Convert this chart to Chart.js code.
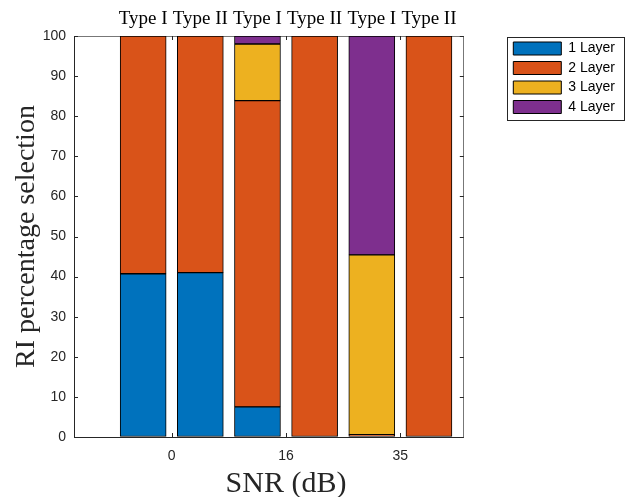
<!DOCTYPE html>
<html>
<head>
<meta charset="utf-8">
<script src="https://cdn.jsdelivr.net/npm/chart.js@4.4.1/dist/chart.umd.min.js"></script>
<style>
  html, body { margin: 0; padding: 0; background: #fff; }
  #wrap { width: 626px; height: 497px; }
</style>
</head>
<body>
<div id="wrap"><canvas id="myChart" width="626" height="497"></canvas></div>
<script>
// bar positions along x, one per bar
const barPos = [1, 2, 3, 4, 5, 6];
const typeLabels = ['Type I', 'Type II', 'Type I', 'Type II', 'Type I', 'Type II'];
const snrPos = [1.5, 3.5, 5.5];
const snrLabels = ['0', '16', '35'];

// percentage of each layer, per bar
const layer1 = [40.7, 41.0, 7.5, 0, 0, 0];
const layer2 = [59.3, 59.0, 76.4, 100, 0.6, 100];
const layer3 = [0, 0, 14.1, 0, 44.8, 0];
const layer4 = [0, 0, 2.0, 0, 54.6, 0];

const seriesNames = ['1 Layer', '2 Layer', '3 Layer', '4 Layer'];
const seriesColors = ['#0072BD', '#D95319', '#EDB120', '#7E2F8E'];

function pts(arr) {
    return arr.map(function(v, i){ return {x: barPos[i], y: v}; });
}

const axisColor = '#262626';

// box round the legend, MATLAB style inward ticks, x label under the middle tick
const frame = {
    id: 'frame',
    afterDraw: function(chart) {
        const ctx = chart.ctx;
        const a = chart.chartArea;
        const sx = chart.scales.x, sy = chart.scales.y;
        ctx.save();
        ctx.strokeStyle = axisColor;
        ctx.lineWidth = 1;
        ctx.beginPath();
        sy.ticks.forEach(function(t){
            const y = Math.round(sy.getPixelForValue(t.value)) + 0.5;
            ctx.moveTo(a.left, y); ctx.lineTo(a.left + 4, y);
            ctx.moveTo(a.right, y); ctx.lineTo(a.right - 4, y);
        });
        sx.ticks.forEach(function(t){
            const x = Math.round(sx.getPixelForValue(t.value)) + 0.5;
            ctx.moveTo(x, a.bottom); ctx.lineTo(x, a.bottom - 4);
            ctx.moveTo(x, a.top); ctx.lineTo(x, a.top + 4);
        });
        ctx.stroke();

        const boxes = chart.legend.legendHitBoxes;
        if (boxes && boxes.length) {
            let l = Infinity, r = -Infinity, t = Infinity, b = -Infinity;
            boxes.forEach(function(h){
                l = Math.min(l, h.left); r = Math.max(r, h.left + h.width);
                t = Math.min(t, h.top); b = Math.max(b, h.top + h.height);
            });
            ctx.strokeStyle = '#262626';
            ctx.strokeRect(Math.round(l - 6) + 0.5, Math.round(t - 5) + 0.5, Math.round(r - l + 15), Math.round(b - t + 10));
        }

        ctx.fillStyle = '#262626';
        ctx.font = '30px "Liberation Serif"';
        ctx.textAlign = 'center';
        ctx.textBaseline = 'alphabetic';
        ctx.fillText('SNR (dB)', sx.getPixelForValue(snrPos[1]), a.bottom + 55);
        ctx.restore();
    }
};

const datasets = seriesNames.map(function(name, k){
    return {
        label: name,
        data: pts([layer1, layer2, layer3, layer4][k]),
        backgroundColor: seriesColors[k],
        borderColor: '#000',
        borderWidth: 1,
        borderSkipped: false,
        barThickness: 46,
        grouped: false,
        xAxisID: 'x',
        yAxisID: 'y'
    };
});

new Chart(document.getElementById('myChart'), {
    type: 'bar',
    data: { datasets: datasets },
    options: {
        responsive: false,
        animation: false,
        layout: { padding: { left: 0, right: 1, top: 0, bottom: 0 } },
        plugins: {
            legend: {
                position: 'right',
                align: 'start',
                fullSize: false,
                maxWidth: 200,
                labels: {
                    boxWidth: 48,
                    boxHeight: 13,
                    padding: 5.5,
                    color: '#000',
                    font: { family: 'Liberation Sans', size: 14 }
                }
            },
            tooltip: { enabled: false }
        },
        scales: {
            x: {
                type: 'linear',
                position: 'bottom',
                offset: false,
                min: -0.21,
                max: 6.61,
                afterBuildTicks: function(scale){
                    scale.ticks = snrPos.map(function(v){ return {value: v}; });
                },
                afterFit: function(scale){ scale.height = 60; },
                ticks: {
                    callback: function(v, i){ return snrLabels[i]; },
                    color: axisColor,
                    padding: 11,
                    maxRotation: 0,
                    autoSkip: false,
                    font: { family: 'Liberation Sans', size: 14 }
                },
                grid: { drawOnChartArea: false, drawTicks: false, offset: false, color: axisColor },
                border: { color: axisColor }
            },
            x2: {
                type: 'linear',
                axis: 'x',
                position: 'top',
                offset: false,
                min: -0.21,
                max: 6.61,
                afterBuildTicks: function(scale){
                    scale.ticks = barPos.map(function(v){ return {value: v}; });
                },
                afterFit: function(scale){ scale.height = 36; },
                ticks: {
                    callback: function(v, i){ return typeLabels[i]; },
                    color: '#000',
                    padding: -2,
                    maxRotation: 0,
                    autoSkip: false,
                    font: { family: 'Liberation Serif', size: 19 }
                },
                grid: { display: false, offset: false },
                border: { color: '#777' }
            },
            y: {
                stacked: true,
                min: 0,
                max: 100,
                afterFit: function(scale){ scale.width = 74; },
                ticks: {
                    stepSize: 10,
                    color: axisColor,
                    padding: 8,
                    font: { family: 'Liberation Sans', size: 14 }
                },
                grid: { drawOnChartArea: false, drawTicks: false, color: axisColor },
                border: { color: axisColor },
                title: {
                    display: true,
                    text: 'RI percentage selection',
                    color: '#262626',
                    padding: { top: 10, bottom: 0 },
                    font: { family: 'Liberation Serif', size: 28 }
                }
            },
            y2: {
                position: 'right',
                min: 0,
                max: 100,
                afterFit: function(scale){ scale.width = 44; },
                ticks: { display: false },
                grid: { display: false },
                border: { color: '#777' }
            }
        }
    },
    plugins: [frame]
});
</script>
</body>
</html>
